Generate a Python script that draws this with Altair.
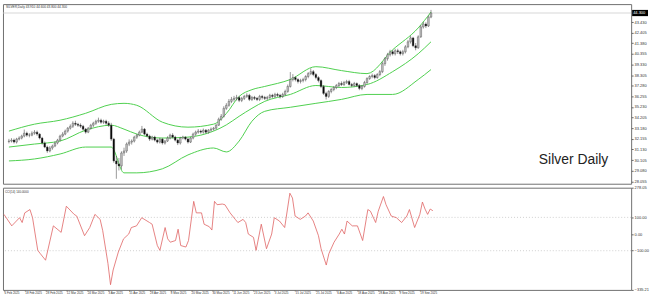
import altair as alt
import pandas as pd

# ---------------- data (bar index 0 = 6 Feb 2025, one bar per trading day) ----------------
opens = [
    31.90, 31.94, 32.03, 31.84, 32.13, 32.23, 32.42, 32.70, 32.51, 32.51,
    32.70, 32.80, 32.61, 32.23, 31.75, 31.36, 30.98, 31.27, 31.46, 31.75,
    32.03, 32.42, 32.61, 32.90, 33.18, 33.37, 33.66, 33.56, 33.47, 33.37,
    33.09, 32.80, 33.18, 33.47, 33.66, 33.85, 33.95, 33.76, 33.85, 33.66,
    33.47, 32.13, 30.02, 29.73, 29.54, 30.79, 30.98, 31.65, 31.84, 31.94,
    32.32, 32.51, 32.80, 33.09, 32.61, 32.42, 32.13, 32.32, 32.03, 31.84,
    32.13, 31.75, 31.94, 32.23, 32.51, 32.32, 32.03, 31.75, 32.23, 32.32,
    32.13, 31.84, 32.23, 32.61, 32.80, 32.90, 32.80, 32.99, 32.80, 32.99,
    33.09, 33.18, 33.47, 34.05, 34.33, 35.10, 35.39, 35.77, 35.96, 36.06,
    36.15, 35.87, 36.06, 36.25, 36.35, 35.96, 36.15, 36.06, 35.96, 36.25,
    36.15, 36.06, 36.15, 36.35, 36.25, 36.44, 36.35, 36.25, 36.44, 36.73,
    37.21, 37.88, 38.07, 37.88, 37.69, 37.78, 37.88, 38.17, 38.45, 38.64,
    38.36, 38.07, 37.78, 37.21, 36.54, 36.25, 36.73, 36.92, 37.11, 37.30,
    37.49, 37.40, 37.59, 37.69, 37.40, 37.30, 37.49, 37.30, 37.02, 37.21,
    37.59, 37.97, 38.17, 38.26, 38.07, 38.36, 38.64, 39.41, 39.89, 40.27,
    40.56, 40.37, 40.66, 40.56, 40.37, 40.56, 41.04, 41.52, 41.90, 41.14,
    40.94, 42.00, 42.96, 43.24, 43.05, 43.91,
]
highs = [
    32.15, 32.22, 32.18, 32.25, 32.40, 32.55, 33.05, 32.85, 32.70, 32.88,
    33.00, 32.95, 32.70, 32.35, 31.90, 31.50, 31.45, 31.60, 31.90, 32.15,
    32.55, 32.80, 33.05, 33.30, 33.55, 33.85, 33.90, 33.70, 33.65, 33.50,
    33.20, 33.30, 33.60, 33.80, 34.00, 34.20, 34.10, 34.00, 34.00, 33.85,
    33.70, 32.25, 30.50, 30.30, 30.95, 31.30, 31.80, 32.10, 32.10, 32.45,
    32.65, 32.95, 33.40, 33.20, 32.75, 32.55, 32.45, 32.45, 32.15, 32.25,
    32.25, 32.05, 32.40, 32.65, 32.70, 32.45, 32.15, 32.35, 32.45, 32.40,
    32.25, 32.35, 32.75, 32.95, 33.10, 33.05, 33.15, 33.10, 33.10, 33.25,
    33.30, 33.60, 34.20, 34.55, 35.30, 35.60, 36.00, 36.20, 36.30, 36.40,
    36.30, 36.20, 36.40, 36.55, 36.50, 36.30, 36.30, 36.20, 36.40, 36.40,
    36.30, 36.30, 36.50, 36.50, 36.60, 36.60, 36.50, 36.60, 36.90, 37.40,
    38.60, 38.40, 38.20, 38.00, 37.95, 38.05, 38.30, 38.60, 38.95, 38.80,
    38.50, 38.20, 37.90, 37.35, 36.70, 36.85, 37.05, 37.25, 37.45, 37.65,
    37.70, 37.75, 37.85, 37.85, 37.55, 37.65, 37.60, 37.45, 37.35, 37.75,
    38.10, 38.30, 38.45, 38.40, 38.50, 38.80, 39.60, 40.05, 40.45, 40.75,
    40.75, 40.85, 40.85, 40.70, 40.75, 41.20, 41.70, 42.10, 42.00, 41.40,
    42.15, 43.15, 43.45, 43.40, 44.05, 44.60,
]
lows = [
    31.72, 31.80, 31.70, 31.70, 32.00, 32.10, 32.30, 32.35, 32.30, 32.40,
    32.55, 32.45, 32.10, 31.60, 31.25, 30.80, 30.85, 31.10, 31.35, 31.62,
    31.90, 32.30, 32.50, 32.75, 33.05, 33.20, 33.40, 33.30, 33.20, 32.95,
    32.65, 32.70, 33.05, 33.30, 33.50, 33.70, 33.60, 33.60, 33.50, 33.30,
    31.95, 29.85, 28.30, 29.10, 29.20, 30.50, 30.80, 31.45, 31.60, 31.80,
    32.15, 32.40, 32.70, 32.50, 32.30, 31.95, 32.00, 31.90, 31.70, 31.70,
    31.60, 31.60, 31.85, 32.10, 32.20, 31.90, 31.55, 31.60, 32.10, 32.00,
    31.70, 31.75, 32.10, 32.45, 32.65, 32.65, 32.65, 32.65, 32.65, 32.85,
    32.95, 33.05, 33.40, 33.90, 34.20, 34.95, 35.25, 35.60, 35.75, 35.85,
    35.70, 35.70, 35.90, 36.10, 35.80, 35.80, 35.90, 35.80, 35.80, 35.95,
    35.90, 35.90, 36.00, 36.10, 36.10, 36.20, 36.05, 36.10, 36.30, 36.60,
    37.10, 37.70, 37.70, 37.50, 37.50, 37.60, 37.70, 38.00, 38.30, 38.20,
    37.90, 37.60, 37.05, 36.40, 35.95, 36.10, 36.55, 36.75, 36.95, 37.15,
    37.25, 37.25, 37.45, 37.30, 37.15, 37.15, 37.15, 36.85, 36.85, 37.10,
    37.45, 37.85, 38.00, 37.90, 37.95, 38.20, 38.50, 39.20, 39.70, 40.10,
    40.20, 40.20, 40.35, 40.20, 40.20, 40.40, 40.90, 41.35, 41.00, 40.70,
    40.85, 41.90, 42.80, 42.85, 42.95, 43.80,
]
closes = [
    31.94, 32.03, 31.84, 32.13, 32.23, 32.42, 32.70, 32.51, 32.51, 32.70,
    32.80, 32.61, 32.23, 31.75, 31.36, 30.98, 31.27, 31.46, 31.75, 32.03,
    32.42, 32.61, 32.90, 33.18, 33.37, 33.66, 33.56, 33.47, 33.37, 33.09,
    32.80, 33.18, 33.47, 33.66, 33.85, 33.95, 33.76, 33.85, 33.66, 33.47,
    32.13, 30.02, 29.73, 29.54, 30.79, 30.98, 31.65, 31.84, 31.94, 32.32,
    32.51, 32.80, 33.09, 32.61, 32.42, 32.13, 32.32, 32.03, 31.84, 32.13,
    31.75, 31.94, 32.23, 32.51, 32.32, 32.03, 31.75, 32.23, 32.32, 32.13,
    31.84, 32.23, 32.61, 32.80, 32.90, 32.80, 32.99, 32.80, 32.99, 33.09,
    33.18, 33.47, 34.05, 34.33, 35.10, 35.39, 35.77, 35.96, 36.06, 36.15,
    35.87, 36.06, 36.25, 36.35, 35.96, 36.15, 36.06, 35.96, 36.25, 36.15,
    36.06, 36.15, 36.35, 36.25, 36.44, 36.35, 36.25, 36.44, 36.73, 37.21,
    37.88, 38.07, 37.88, 37.69, 37.78, 37.88, 38.17, 38.45, 38.64, 38.36,
    38.07, 37.78, 37.21, 36.54, 36.25, 36.73, 36.92, 37.11, 37.30, 37.49,
    37.40, 37.59, 37.69, 37.40, 37.30, 37.49, 37.30, 37.02, 37.21, 37.59,
    37.97, 38.17, 38.26, 38.07, 38.36, 38.64, 39.41, 39.89, 40.27, 40.56,
    40.37, 40.66, 40.56, 40.37, 40.56, 41.04, 41.52, 41.90, 41.14, 40.94,
    42.00, 42.96, 43.24, 43.05, 43.91, 44.30,
]

# Bollinger bands at these bar indexes
band_idx = [0, 10, 20, 30, 40, 45, 50, 60, 70, 80, 85, 90, 95, 100, 110, 120, 130, 140, 150, 160, 165]
band_upper = [32.90, 33.57, 33.95, 34.62, 35.48, 35.58, 35.39, 33.76, 33.28, 33.57, 34.60,
              36.25, 36.90, 37.21, 37.88, 39.12, 38.74, 38.45, 40.75, 42.86, 44.39]
band_mid = [31.36, 31.65, 31.94, 32.99, 33.47, 33.09, 32.61, 32.23, 32.32, 32.90, 33.50,
            34.33, 35.10, 35.77, 36.44, 37.30, 37.11, 37.40, 38.64, 40.37, 41.52]
band_lower = [30.02, 30.21, 30.69, 31.36, 31.36, 28.87, 28.87, 29.26, 30.60, 31.27, 30.89,
              31.94, 33.85, 34.81, 35.20, 35.58, 35.96, 36.44, 36.44, 37.88, 38.84]

# CCI(14)
cci_idx = [0, 3, 6, 7, 8, 10, 11, 13, 14, 16, 19, 22, 24, 27, 28, 31, 33, 35, 37, 38,
           40, 41, 42, 44, 46, 48, 49, 51, 53, 56, 57, 59, 60, 62, 63, 64, 66, 67, 68, 70,
           71, 73, 74, 76, 77, 79, 80, 81, 82, 84, 85, 87, 89, 90, 92, 93, 94, 96, 97, 99,
           101, 103, 104, 106, 108, 110, 111, 112, 114, 116, 117, 119, 121, 122, 124, 125, 127, 129, 130, 131,
           132, 134, 136, 138, 140, 141, 143, 144, 146, 147, 149, 151, 153, 155, 156, 158, 160, 161, 162, 163,
           164, 165]
cci_val = [118, 49, 98, 69, 127, 147, 98, -98, -118, -157, 49, 10, 167, 118, 108, -10, 39, 118, 88, 20,
           -176, -304, -216, -108, -29, 0, 39, 49, 98, 69, 59, -69, -98, 39, -29, -49, -39, 29, -69, -78,
           -39, 196, 127, 127, 59, 44, 24, 196, 176, 180, 176, 127, 88, 69, 88, 69, 0, -20, -98, 59,
           -88, 0, 98, 78, 39, 245, 216, 108, 88, 108, 127, 78, -10, -88, -186, -118, -49, 0, 29, 0,
           78, 49, 49, -39, 147, 137, 69, 137, 225, 176, 108, 98, 69, 108, 147, 39, 118, 192, 150, 118,
           150, 140]
cci_levels = [100, -100]

date_ticks = [0, 8, 16, 24, 32, 40, 48, 56, 64, 72, 80, 88, 96, 104, 112, 120, 128, 136, 144, 152, 160]
date_labels = ["6 Feb 2025", "18 Feb 2025", "28 Feb 2025", "12 Mar 2025", "24 Mar 2025", "3 Apr 2025",
               "15 Apr 2025", "28 Apr 2025", "8 May 2025", "20 May 2025", "30 May 2025", "11 Jun 2025",
               "23 Jun 2025", "3 Jul 2025", "15 Jul 2025", "25 Jul 2025", "6 Aug 2025", "18 Aug 2025",
               "28 Aug 2025", "9 Sep 2025", "19 Sep 2025"]
price_ticks = [43.430, 42.405, 41.380, 40.355, 39.330, 38.305, 37.280, 36.255, 35.230,
               34.205, 33.180, 32.155, 31.130, 30.105, 29.080, 28.055]
cci_ticks = [278.05, 100, 0, -100, -335.21]

title_text = "SILVER,Daily  43.910 44.600 43.800 44.300"
cci_text = "CCI(14) 140.0000"
note_text = "Silver Daily"

# ---------------- layout ----------------
W = 633
H_MAIN = 181
H_CCI = 103
X_DOMAIN = [-0.38, 241.3]
PRICE_DOMAIN = [27.82, 45.16]
CCI_DOMAIN = [-335.21, 278.05]
FONT = "Liberation Sans"

bars = pd.DataFrame({"i": list(range(len(closes))), "open": opens, "high": highs,
                     "low": lows, "close": closes})

xsc = alt.Scale(domain=X_DOMAIN, nice=False, zero=False)
psc = alt.Scale(domain=PRICE_DOMAIN, nice=False, zero=False)
csc = alt.Scale(domain=CCI_DOMAIN, nice=False, zero=False)

price_axis = alt.Axis(orient="right", values=price_ticks, format=".3f", labelFontSize=4,
                      tickSize=2, labelPadding=1, domain=False, grid=False, labelOverlap=False,
                      labelColor="#333", tickColor="#666", labelFont=FONT)
cci_axis = alt.Axis(orient="right", values=cci_ticks, format=".2f", labelFontSize=4,
                    tickSize=2, labelPadding=1, domain=False, grid=False, labelOverlap=False,
                    labelColor="#333", tickColor="#666", labelFont=FONT)
label_expr = "[" + ",".join("'%s'" % s for s in date_labels) + "][round(datum.value / 8)]"
date_axis = alt.Axis(values=date_ticks, labelExpr=label_expr, labelFontSize=3, labelAlign="left",
                     labelBaseline="top", labelPadding=0.5, tickSize=1, domain=False, grid=False,
                     labelOverlap=False, labelColor="#333", tickColor="#666", labelFont=FONT,
                     labelFlush=False)
no_x = alt.Axis(labels=False, ticks=False, domain=False, grid=False)

last_df = pd.DataFrame({"p": [closes[-1]], "t": ["%.3f" % closes[-1]]})
price_line = alt.Chart(last_df).mark_rule(color="#cccccc", strokeWidth=0.8).encode(
    y=alt.Y("p:Q", scale=psc, axis=price_axis, title=None))

band_rows = []
for name, vals in (("upper", band_upper), ("mid", band_mid), ("lower", band_lower)):
    for i, v in zip(band_idx, vals):
        band_rows.append({"i": i, "v": v, "band": name})
bands = alt.Chart(pd.DataFrame(band_rows)).mark_line(
    interpolate="monotone", color="#4fd04f", strokeWidth=1).encode(
    x=alt.X("i:Q", scale=xsc, axis=no_x, title=None),
    y=alt.Y("v:Q", scale=psc, axis=price_axis, title=None),
    detail="band:N")

wicks = alt.Chart(bars).mark_rule(color="#555555", strokeWidth=0.6).encode(
    x=alt.X("i:Q", scale=xsc, axis=no_x, title=None),
    y=alt.Y("low:Q", scale=psc, axis=price_axis, title=None),
    y2="high:Q")

bodies = alt.Chart(bars).mark_bar(size=1.7, stroke="#444444", strokeWidth=0.4).encode(
    x=alt.X("i:Q", scale=xsc, axis=no_x, title=None),
    y=alt.Y("open:Q", scale=psc, axis=price_axis, title=None),
    y2="close:Q",
    fill=alt.condition("datum.close >= datum.open", alt.value("#c4c4c4"), alt.value("#000000")))

price_box = alt.Chart(last_df).transform_calculate(
    top="datum.p + 0.3", bot="datum.p - 0.3").mark_rect(color="#000000").encode(
    x=alt.value(W + 1), x2=alt.value(W + 17),
    y=alt.Y("top:Q", scale=psc, axis=price_axis, title=None), y2="bot:Q")
price_lbl = alt.Chart(last_df).mark_text(
    align="left", baseline="middle", fontSize=4, color="#ffffff", font=FONT).encode(
    x=alt.value(W + 2), y=alt.Y("p:Q", scale=psc, axis=price_axis, title=None), text="t:N")

title_mark = alt.Chart(pd.DataFrame({"t": [title_text]})).mark_text(
    align="left", baseline="middle", fontSize=3.2, color="#333333", font=FONT).encode(
    x=alt.value(3), y=alt.value(3), text="t:N")
note_mark = alt.Chart(pd.DataFrame({"t": [note_text]})).mark_text(
    align="left", baseline="alphabetic", fontSize=14, color="#222222", font=FONT).encode(
    x=alt.value(540), y=alt.value(161), text="t:N")

main = alt.layer(price_line, bands, wicks, bodies, price_box, price_lbl, title_mark, note_mark
                 ).properties(width=W, height=H_MAIN)

# CCI panel
cci_df = pd.DataFrame({"i": cci_idx, "c": cci_val})

lv = alt.Chart(pd.DataFrame({"c": cci_levels})).mark_rule(
    color="#bbbbbb", strokeWidth=0.7, strokeDash=[1, 2]).encode(
    y=alt.Y("c:Q", scale=csc, axis=cci_axis, title=None))
cci_line = alt.Chart(cci_df).mark_line(color="#e06464", strokeWidth=0.8).encode(
    x=alt.X("i:Q", scale=xsc, axis=date_axis, title=None),
    y=alt.Y("c:Q", scale=csc, axis=cci_axis, title=None))
cci_lbl = alt.Chart(pd.DataFrame({"t": [cci_text]})).mark_text(
    align="left", baseline="middle", fontSize=3, color="#333333", font=FONT).encode(
    x=alt.value(2), y=alt.value(4), text="t:N")

cci = alt.layer(lv, cci_line, cci_lbl).properties(width=W, height=H_CCI)

chart = alt.vconcat(main, cci, spacing=0).properties(
    padding={"left": 1, "top": 2, "right": 0, "bottom": 0},
    background="white",
).configure_view(stroke="#707070", strokeWidth=1).configure_axis(labelOverlap=False)

chart.save("out.html", embed_options={"renderer": "svg", "actions": False})
